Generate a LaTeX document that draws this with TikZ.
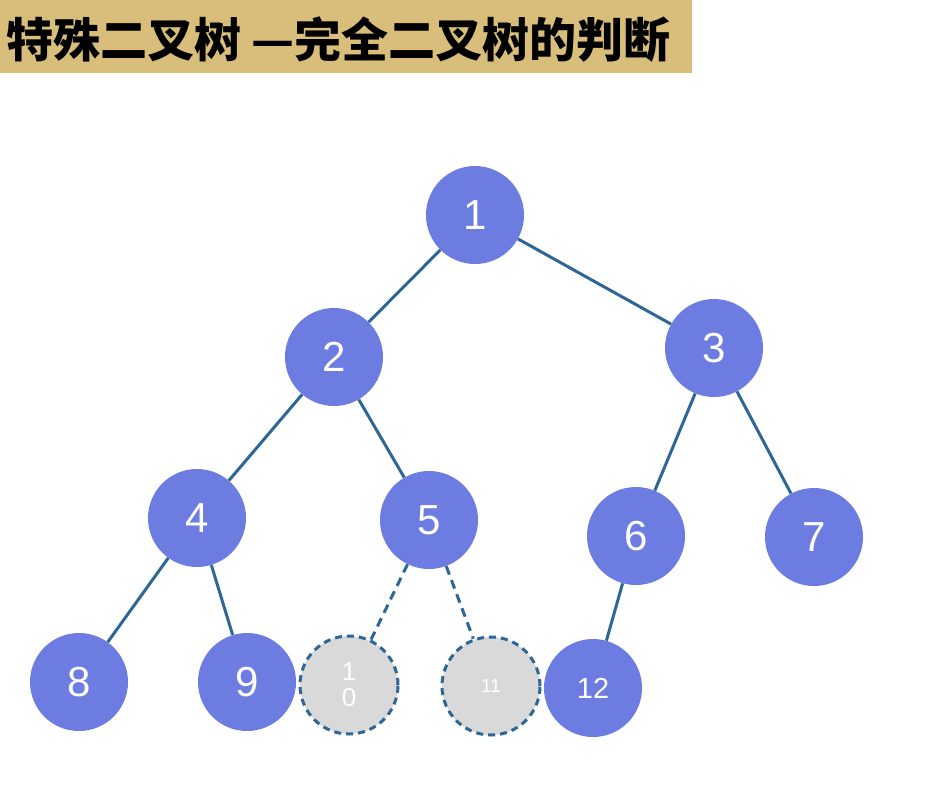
\documentclass[tikz,border=0pt]{standalone}
\usepackage{fontspec}
\setmainfont{Liberation Sans}
\newfontfamily\cjk{Noto Sans CJK SC}
\definecolor{titlebg}{RGB}{216,190,122}
\definecolor{nodeblue}{RGB}{108,124,225}
\definecolor{edgecol}{RGB}{46,102,150}
\definecolor{ghost}{RGB}{217,217,217}
\begin{document}
\begin{tikzpicture}[x=1pt,y=-1pt,
  tnode/.style={circle,fill=nodeblue,minimum size=98pt,inner sep=0pt,text=white,font=\fontsize{42}{42}\selectfont},
  gnode/.style={circle,fill=ghost,draw=edgecol,line width=3pt,dash pattern=on 7pt off 5pt,minimum size=98pt,inner sep=0pt,text=white,align=center},
  edge/.style={draw=edgecol,line width=3pt},
  dedge/.style={draw=edgecol,line width=3pt,dash pattern=on 9pt off 6pt}]
\useasboundingbox (0,0) rectangle (936,796);
\fill[white] (0,0) rectangle (936,796);
\fill[titlebg] (0,0) rectangle (692,73);
\node[anchor=west,inner sep=0pt,font=\cjk\bfseries\fontsize{47}{47}\selectfont] (title) at (6,40) {特殊二叉树 —完全二叉树的判断};
\node[tnode] (n1) at (475,215) {1};
\node[tnode] (n2) at (334,357) {2};
\node[tnode] (n3) at (714,348) {3};
\node[tnode] (n4) at (197,518) {4};
\node[tnode] (n5) at (429,520) {5};
\node[tnode] (n6) at (636,536) {6};
\node[tnode] (n7) at (814,537) {7};
\node[tnode] (n8) at (79,682) {8};
\node[tnode] (n9) at (247,682) {9};
\node[gnode,font=\fontsize{26}{26}\selectfont] (n10) at (349,685) {1\\0};
\node[gnode,font=\fontsize{19}{19}\selectfont] (n11) at (491,686) {11};
\node[tnode,font=\fontsize{29}{29}\selectfont] (n12) at (593,688) {12};
\draw[edge] (n1) -- (n2);
\draw[edge] (n1) -- (n3);
\draw[edge] (n2) -- (n4);
\draw[edge] (n2) -- (n5);
\draw[edge] (n3) -- (n6);
\draw[edge] (n3) -- (n7);
\draw[edge] (n4) -- (n8);
\draw[edge] (n4) -- (n9);
\draw[edge] (n6) -- (n12);
\draw[dedge] (n5) -- (n10);
\draw[dedge] (n5) -- (n11);
\end{tikzpicture}
\end{document}
